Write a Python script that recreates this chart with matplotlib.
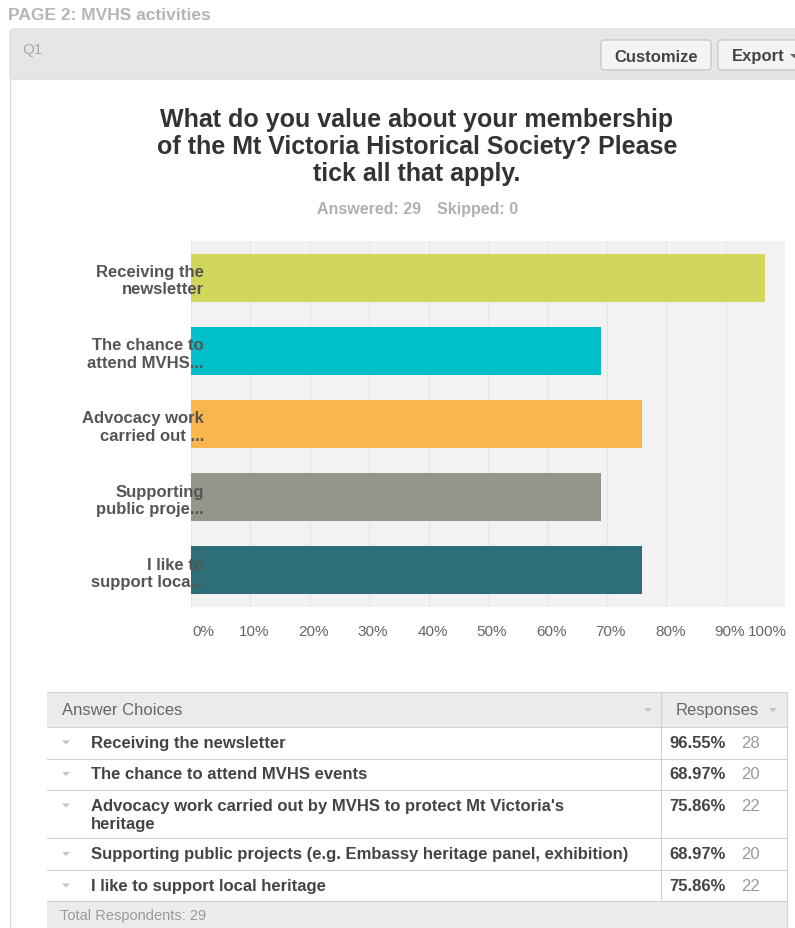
import matplotlib
matplotlib.use("Agg")
import matplotlib.pyplot as plt
from matplotlib.lines import Line2D
from matplotlib.patches import Rectangle, FancyBboxPatch, Polygon
from matplotlib.transforms import Affine2D, ScaledTranslation, blended_transform_factory

plt.rcParams["font.family"] = ["Liberation Sans", "DejaVu Sans"]

# canvas size in pixels
W, H = 795, 929

page_title = "PAGE 2: MVHS activities"
question_id = "Q1"
question = [
    "What do you value about your membership",
    "of the Mt Victoria Historical Society? Please",
    "tick all that apply.",
]
answered = 29
skipped = 0

short_labels = [
    "Receiving the\nnewsletter",
    "The chance to\nattend MVHS...",
    "Advocacy work\ncarried out ...",
    "Supporting\npublic proje...",
    "I like to\nsupport loca...",
]
full_labels = [
    "Receiving the newsletter",
    "The chance to attend MVHS events",
    "Advocacy work carried out by MVHS to protect Mt Victoria's\nheritage",
    "Supporting public projects (e.g. Embassy heritage panel, exhibition)",
    "I like to support local heritage",
]
percents = [96.55, 68.97, 75.86, 68.97, 75.86]
counts = [28, 20, 22, 20, 22]
bar_colors = ["#d3d65c", "#00bfc8", "#f9b64c", "#96958a", "#2e6e78"]
x_ticks = [0, 10, 20, 30, 40, 50, 60, 70, 80, 90, 100]


def px_box(fig, px, x0, y0, x1, y1, fc, ec="none", lw=0.8, z=0, rounded=0):
    if rounded:
        p = FancyBboxPatch((x0, y0), x1 - x0, y1 - y0,
                           boxstyle=f"round,pad=0,rounding_size={rounded}",
                           transform=px, fc=fc, ec=ec, lw=lw, zorder=z)
    else:
        p = Rectangle((x0, y0), x1 - x0, y1 - y0, transform=px,
                      fc=fc, ec=ec, lw=lw, zorder=z)
    fig.patches.append(p)


def px_line(fig, px, xs, ys, color="#d2d2d2", lw=0.8, z=1):
    fig.lines.append(Line2D(xs, ys, transform=px, color=color, lw=lw, zorder=z))


def caret(fig, px, x, y, color="#c4c4c4"):
    fig.patches.append(Polygon([(x - 4, y - 2), (x + 4, y - 2), (x, y + 2)],
                               closed=True, transform=px, fc=color, ec="none", zorder=3))


fig = plt.figure(figsize=(W / 100, H / 100), dpi=100)
# pixel coordinates, origin at top-left
px = Affine2D().scale(1 / W, -1 / H).translate(0, 1) + fig.transFigure

# page header
fig.text(8, 15, page_title, transform=px, fontsize=12.5, fontweight="bold",
         color="#b5b5b5", va="center", ha="left")

# question panel
px_box(fig, px, 10, 30, 820, 80, "#e6e6e6", ec="#d6d6d6", rounded=4)
px_line(fig, px, [10, 10], [80, 935], color="#d6d6d6")
fig.text(22, 50, question_id, transform=px, fontsize=11, color="#a8a8a8",
         va="center", ha="left")

# buttons
px_box(fig, px, 601, 41, 711, 71, "#f4f4f4", ec="#c2c2c2", z=2, rounded=3)
px_box(fig, px, 718, 41, 830, 71, "#f4f4f4", ec="#c2c2c2", z=2, rounded=3)
fig.text(656, 57, "Customize", transform=px, fontsize=12, fontweight="bold",
         color="#444444", va="center", ha="center", zorder=3)
fig.text(732, 57, "Export", transform=px, fontsize=12, fontweight="bold",
         color="#444444", va="center", ha="left", zorder=3)
caret(fig, px, 794, 57, color="#666666")

# chart title
fig.text(417, 147, "\n".join(question), transform=px, fontsize=18,
         fontweight="bold", color="#333333", ha="center", va="center",
         linespacing=1.15)
fig.text(421, 210, f"Answered: {answered}", transform=px, fontsize=11.5,
         fontweight="bold", color="#b0b0b0", ha="right", va="center")
fig.text(437, 210, f"Skipped: {skipped}", transform=px, fontsize=11.5,
         fontweight="bold", color="#b0b0b0", ha="left", va="center")

# bar chart
ax = fig.add_axes([191 / W, 1 - 608 / H, 594 / W, 366 / H])
ax.set_facecolor("#f2f2f2")
ypos = list(range(len(percents)))
ax.barh(ypos, percents, height=0.655, color=bar_colors, zorder=2)
ax.set_xlim(0, 100)
ax.set_ylim(len(percents) - 0.5, -0.5)
ax.set_xticks(x_ticks)
ax.set_xticklabels([])
ax.xaxis.grid(True, color="#e7e7e7", lw=1)
ax.set_axisbelow(True)
ax.yaxis.set_zorder(5)  # category labels sit on top of the bars
ax.set_yticks(ypos, short_labels, fontsize=12, fontweight="bold", color="#555555")
ax.tick_params(axis="y", length=0, pad=-13 * 0.72)
ax.tick_params(axis="x", length=0)
for s in ax.spines.values():
    s.set_visible(False)

xtrans = blended_transform_factory(ax.transData, ax.transAxes)
for i, t in enumerate(x_ticks):
    if i == 0:
        ha, dx = "left", 1
    elif i == len(x_ticks) - 1:
        ha, dx = "right", 2
    else:
        ha, dx = "center", 4
    ax.text(t, -24 / 366, f"{t}%", transform=xtrans + ScaledTranslation(dx / 100, 0, fig.dpi_scale_trans),
            ha=ha, va="center", fontsize=11, color="#666666", clip_on=False)

# response table
tx0, tx1, tdiv = 47, 787, 661
px_box(fig, px, tx0, 693, tx1, 728, "#ebebeb")
px_line(fig, px, [tx0, tx1], [693, 693])
fig.text(62, 711, "Answer Choices", transform=px, fontsize=12, color="#666666",
         va="center", ha="left")
fig.text(676, 711, "Responses", transform=px, fontsize=12, color="#666666",
         va="center", ha="left")
caret(fig, px, 648, 711)
caret(fig, px, 773, 711)

row_top = 728
px_line(fig, px, [tx0, tx1], [row_top, row_top])
for label, pct, n in zip(full_labels, percents, counts):
    lines = label.split("\n")
    for k, line in enumerate(lines):
        fig.text(91, row_top + 15.5 + 18 * k, line, transform=px, fontsize=12,
                 fontweight="bold", color="#444444", va="center", ha="left")
    caret(fig, px, 66, row_top + 15.5)
    fig.text(669, row_top + 15.5, f"{pct:.2f}%", transform=px, fontsize=12,
             fontweight="bold", color="#444444", va="center", ha="left")
    fig.text(741, row_top + 15.5, f"{n}", transform=px, fontsize=12,
             color="#9a9a9a", va="center", ha="left")
    row_top += 31.5 + 17 * (len(lines) - 1)
    px_line(fig, px, [tx0, tx1], [row_top, row_top])

px_line(fig, px, [tdiv, tdiv], [693, row_top])
px_box(fig, px, tx0, row_top, tx1, 940, "#ececec")
px_line(fig, px, [tx1, tx1], [693, 940])
fig.text(60, 916, f"Total Respondents: {answered}", transform=px, fontsize=10.5,
         color="#9a9a9a", va="center", ha="left")

fig.savefig("out.png", dpi=100)
